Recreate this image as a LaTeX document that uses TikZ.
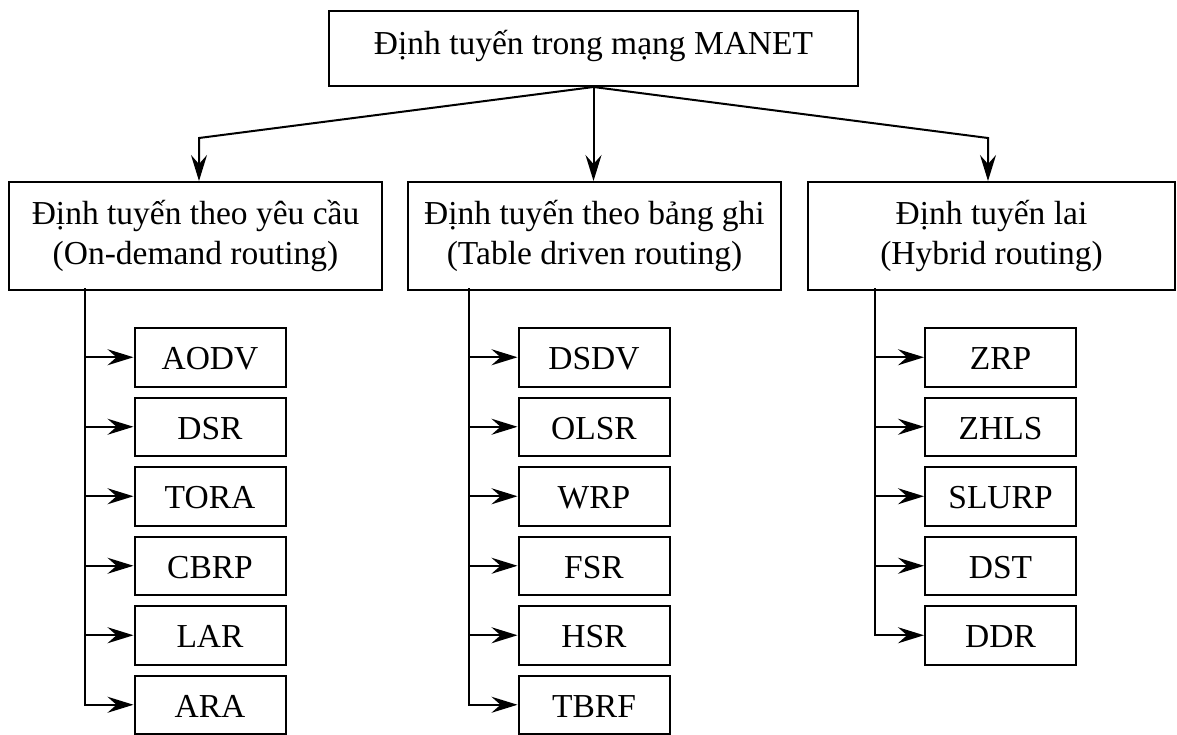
\documentclass[tikz,border=0pt]{standalone}
\usepackage{fontspec}
\setmainfont{Liberation Serif}
\usetikzlibrary{arrows.meta}
% invisible rules that fix the height above the first baseline
% and the depth below the last one, so text sits at a known place
\newcommand{\upstrut}[1]{\rule{0pt}{#1}}
\newcommand{\downstrut}[1]{\rule[-#1]{0pt}{#1}}
\begin{document}
\begin{tikzpicture}[x=1pt,y=-1pt,
  box/.style={draw, line width=2pt, rectangle, inner sep=0pt,
    font=\fontsize{33.5}{40}\selectfont},
  topbox/.style={box, minimum width=529pt, minimum height=75pt},
  catbox/.style={box, minimum height=108pt, align=center},
  leaf/.style={box, minimum width=151pt, minimum height=58.5pt},
  conn/.style={line width=2pt},
  trunk/.style={conn, line cap=rect},
  arr/.style={conn, -{Stealth[length=26pt, width=16pt, inset=9pt]}}]
\useasboundingbox (0,0) rectangle (1177,734);

% root and the three routing families
\node[topbox] (root) at (593.5,48.5)
  {\upstrut{34pt}Định tuyến trong mạng MANET\downstrut{23pt}};
\node[catbox, minimum width=373pt] (ondemand) at (195.5,236)
  {\upstrut{34pt}Định tuyến theo yêu cầu\\(On-demand routing)\downstrut{18pt}};
\node[catbox, minimum width=373pt] (table) at (594.5,236)
  {\upstrut{34pt}Định tuyến theo bảng ghi\\(Table driven routing)\downstrut{18pt}};
\node[catbox, minimum width=367pt] (hybrid) at (991.5,236)
  {\upstrut{34pt}Định tuyến lai\\(Hybrid routing)\downstrut{18pt}};

% bends of the outer branches
\coordinate (kL) at (199,138);
\coordinate (kR) at (988,138);
\draw[arr] (root.south) -- (kL) -- (kL |- ondemand.north);
\draw[arr] (root.south) -- (root.south |- table.north);
\draw[arr] (root.south) -- (kR) -- (kR |- hybrid.north);

% protocol boxes
\foreach \name [count=\i from 0] in {AODV,DSR,TORA,CBRP,LAR,ARA}
  \node[leaf] (A\i) at (210,{357.25+69.5*\i}) {\upstrut{30pt}\name\downstrut{5pt}};
\foreach \name [count=\i from 0] in {DSDV,OLSR,WRP,FSR,HSR,TBRF}
  \node[leaf] (B\i) at (594,{357.25+69.5*\i}) {\upstrut{30pt}\name\downstrut{5pt}};
\foreach \name [count=\i from 0] in {ZRP,ZHLS,SLURP,DST,DDR}
  \node[leaf] (C\i) at (1000.5,{357.25+69.5*\i}) {\upstrut{30pt}\name\downstrut{5pt}};

% trunks and their branches
\coordinate (tA) at (84.5,289);
\coordinate (tB) at (469,289);
\coordinate (tC) at (875,289);
\draw[trunk] (tA) -- (tA |- A5.west);
\draw[trunk] (tB) -- (tB |- B5.west);
\draw[trunk] (tC) -- (tC |- C4.west);
\foreach \i in {0,...,5} \draw[arr] (tA |- A\i.west) -- (A\i.west);
\foreach \i in {0,...,5} \draw[arr] (tB |- B\i.west) -- (B\i.west);
\foreach \i in {0,...,4} \draw[arr] (tC |- C\i.west) -- (C\i.west);
\end{tikzpicture}
\end{document}
